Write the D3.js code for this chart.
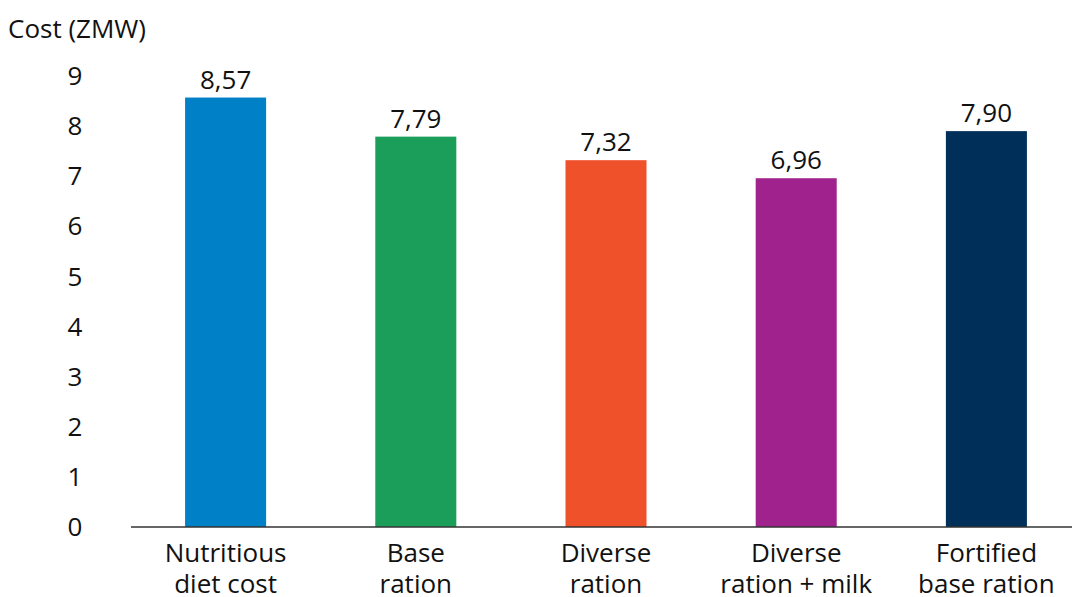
<!DOCTYPE html>
<html>
<head>
<meta charset="utf-8">
<script src="https://cdn.jsdelivr.net/npm/d3@7"></script>
<style>
  html, body { margin: 0; padding: 0; background: #fff; }
  svg { display: block; font-family: "Open Sans", "Noto Sans", sans-serif; }
</style>
</head>
<body>
<svg id="chart" width="1072" height="597"></svg>
<script>
const categories = [["Nutritious", "diet cost"], ["Base", "ration"], ["Diverse", "ration"], ["Diverse", "ration + milk"], ["Fortified", "base ration"]];
const values = [8.57, 7.79, 7.32, 6.96, 7.90];
const valueLabels = ["8,57", "7,79", "7,32", "6,96", "7,90"];
const colors = ["#0080c6", "#1b9e5a", "#ef522b", "#a0228d", "#002f5a"];
const yTicks = [0, 1, 2, 3, 4, 5, 6, 7, 8, 9];
const yTitle = "Cost (ZMW)";
const fs = 26;

const svg = d3.select("#chart");
const x = d3.scaleBand().domain(d3.range(categories.length)).range([130.5, 1081.5]).paddingInner(0.574).paddingOuter(0.287);
const y = d3.scaleLinear().domain([0, 9]).range([527, 76]);

svg.append("text").attr("x", 8).attr("y", 38).attr("font-size", fs).attr("fill", "#111").text(yTitle);

svg.append("g").selectAll("text").data(yTicks).join("text")
  .attr("x", 75).attr("y", d => y(d)).attr("dy", "0.35em")
  .attr("text-anchor", "middle").attr("font-size", fs).attr("fill", "#111")
  .text(d => d);

svg.append("g").selectAll("rect").data(values).join("rect")
  .attr("x", (d, i) => x(i)).attr("width", x.bandwidth())
  .attr("y", d => y(d)).attr("height", d => y(0) - y(d))
  .attr("fill", (d, i) => colors[i]);

svg.append("g").selectAll("text").data(values).join("text")
  .attr("x", (d, i) => x(i) + x.bandwidth() / 2).attr("y", d => y(d) - 9)
  .attr("text-anchor", "middle").attr("font-size", fs).attr("fill", "#111")
  .text((d, i) => valueLabels[i]);

svg.append("line").attr("x1", 131).attr("x2", 1072).attr("y1", y(0)).attr("y2", y(0))
  .attr("stroke", "#333").attr("stroke-width", 1.5);

const cat = svg.append("g").selectAll("text").data(categories).join("text")
  .attr("text-anchor", "middle").attr("font-size", fs).attr("fill", "#111")
  .attr("transform", (d, i) => `translate(${x(i) + x.bandwidth() / 2},0)`);
cat.selectAll("tspan").data(d => d).join("tspan")
  .attr("x", 0).attr("y", (d, j) => 562 + j * 30.5).text(d => d);
</script>
</body>
</html>
